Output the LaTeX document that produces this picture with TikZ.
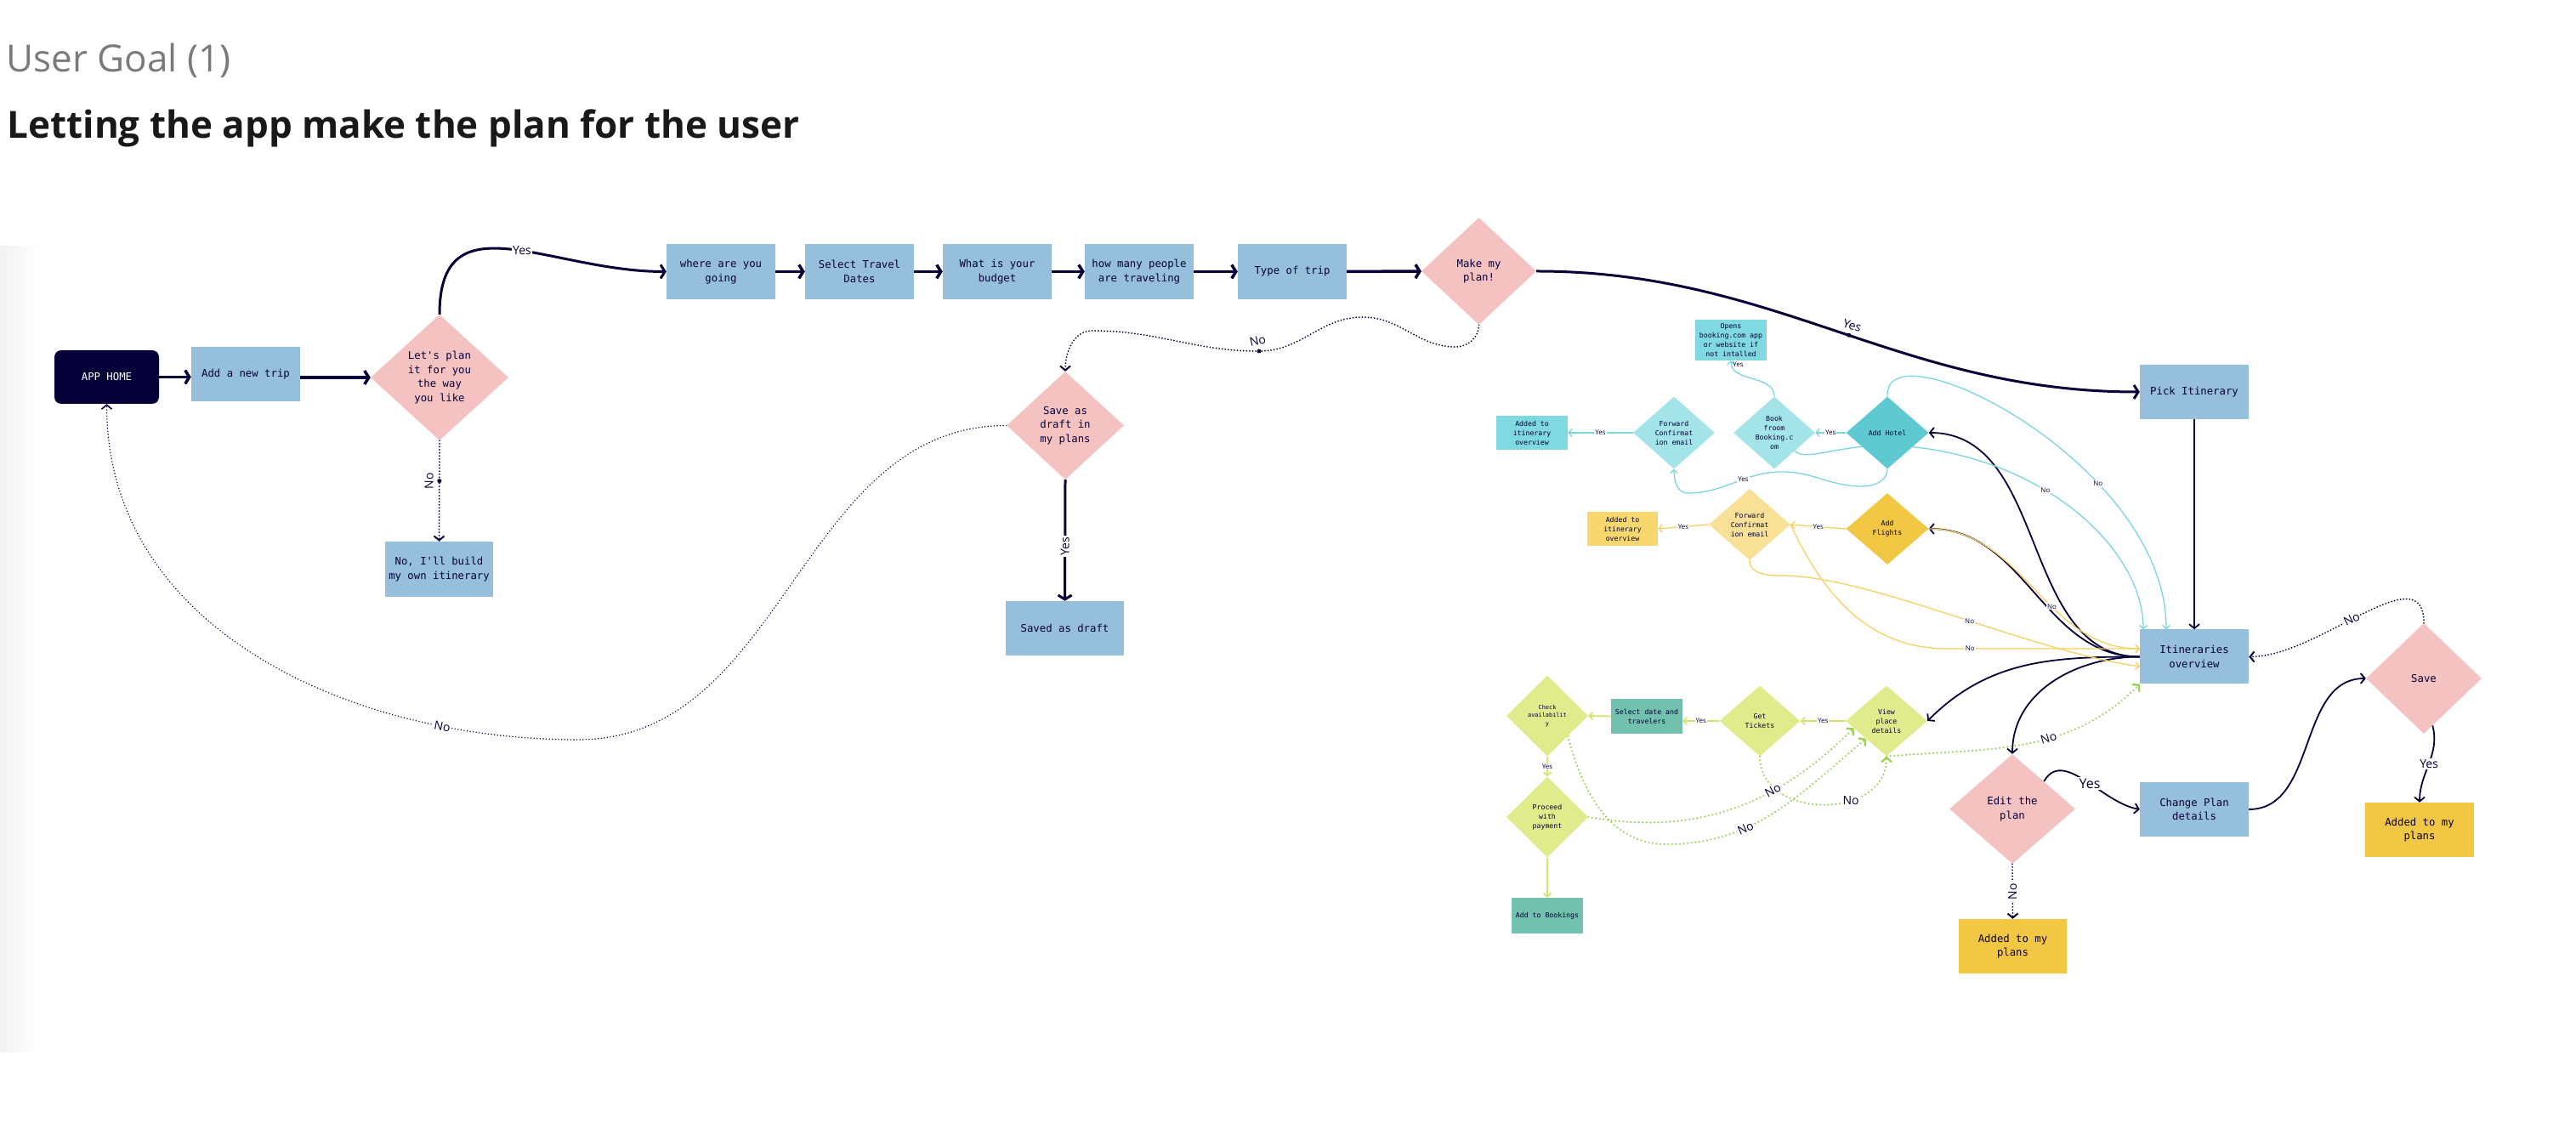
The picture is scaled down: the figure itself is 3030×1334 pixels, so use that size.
\documentclass[tikz,border=0pt]{standalone}
\usepackage{fontspec}
\setmainfont{Open Sans}
\newfontfamily\monofont{DejaVu Sans Mono}
\usetikzlibrary{shapes.geometric,arrows.meta,calc,backgrounds}
\definecolor{navy}{HTML}{050038}
\definecolor{boxblue}{HTML}{95BFDA}
\definecolor{diapink}{HTML}{F5C2C2}
\definecolor{cyanbox}{HTML}{80D9E0}
\definecolor{cyanlight}{HTML}{A3E4E8}
\definecolor{cyandark}{HTML}{5FC9D1}
\definecolor{cyanline}{HTML}{7AD5DD}
\definecolor{yelbox}{HTML}{F7D76E}
\definecolor{yellight}{HTML}{F8E196}
\definecolor{yeldark}{HTML}{F2C744}
\definecolor{yelline}{HTML}{F5D063}
\definecolor{limedia}{HTML}{E0EB8B}
\definecolor{limeline}{HTML}{D3E56C}
\definecolor{greendot}{HTML}{9CCF55}
\definecolor{tealbox}{HTML}{72C0AE}
\definecolor{goldbox}{HTML}{F2C744}
\newcommand\bigtxt{\monofont\fontsize{12.3}{16.5}\selectfont}
\newcommand\smalltxt{\monofont\fontsize{8.2}{11}\selectfont}
\newcommand\tinytxt{\monofont\fontsize{6.9}{9.5}\selectfont}
\begin{document}
\begin{tikzpicture}[x=1pt,y=1pt]
  \tikzset{box/.style={fill=boxblue,text=navy,font=\bigtxt,align=center,minimum
      width=128pt,minimum height=64pt,inner sep=2pt},dia/.style={diamond,fill=diapink,text=navy,
      font=\bigtxt,align=center,inner sep=0pt},sbox/.style={font=\smalltxt,text=navy,align=center,
      minimum width=84pt,minimum height=40pt,inner sep=1pt},sdia/.style={diamond,font=\smalltxt,
      text=navy,align=center,inner sep=0pt,minimum width=96pt,minimum height=85pt}}
  \tikzset{flow/.style={draw=navy,line width=3.5pt,-{Straight Barb[length=5pt,width=16pt]}},
    link/.style={draw=navy,line width=1.8pt,-{Straight Barb[length=5pt,width=12pt]}},
    nolink/.style={link,line width=2pt,line cap=round,dash pattern=on 0pt off 3.6pt},
    cyanlink/.style={draw=cyanline,line width=1.3pt,-{Straight Barb[length=4pt,width=9pt]}},
    yellink/.style={cyanlink,draw=yelline},limelink/.style={cyanlink,draw=limeline,line width=1.8pt},
    greenno/.style={draw=greendot,line width=2.4pt,line cap=round,dash pattern=on 0pt off 4.6pt,
      -{Straight Barb[length=5pt,width=12pt]}},
    lbl/.style={font=\fontsize{14}{14}\selectfont,text=navy,fill=white,inner sep=1.5pt},
    slbl/.style={font=\fontsize{8}{8}\selectfont,text=navy,fill=white,inner sep=1pt},
    dotmark/.style={circle,fill=navy,inner sep=0pt,minimum size=5pt}}

  \useasboundingbox (0,0) rectangle (3030,1334);
  \shade[left color=black!5,right color=white] (0,97) rectangle (45,1044);

  \node[anchor=base west,font=\fontsize{44}{44}\selectfont,text=black!52] (goal) at (4,1249) {User Goal (1)};
  \node[anchor=base west,font=\fontsize{44}{44}\selectfont\bfseries,text=black!90] (headline) at (5,1171)
  {Letting the app make the plan for the user};

  \node[box,fill=navy,text=white,rounded corners=8pt,minimum width=123pt,minimum height=63pt] (apphome)
  at (125.5,890.5) {APP HOME};
  \node[box] (addtrip) at (289,894) {Add a new trip};
  \node[dia,minimum width=162pt,minimum height=148pt] (letsplan) at (517,890)
  {Let\textquotesingle{}s plan\\it for you\\the way\\you like};
  \node[box,minimum width=127pt,minimum height=65pt] (ownplan) at (516.5,664.5)
  {No, I\textquotesingle{}ll build\\my own itinerary};
  \node[box,minimum height=65pt] (where) at (848,1014.5) {where are you\\going};
  \node[box,minimum height=65pt] (dates) at (1011,1014.5) {Select Travel\\Dates};
  \node[box,minimum height=65pt] (budget) at (1173,1014.5) {What is your\\budget};
  \node[box,minimum height=65pt] (people) at (1340,1014.5) {how many people\\are traveling};
  \node[box,minimum height=65pt] (triptype) at (1520,1014.5) {Type of trip};
  \node[dia,minimum width=135pt,minimum height=126pt] (makeplan) at (1739.5,1015) {Make my\\plan!};
  \node[dia,minimum width=138pt,minimum height=127pt] (draftq) at (1253,833.5) {Save as\\draft in\\my plans};
  \node[box,minimum width=139pt] (draft) at (1252.5,595) {Saved as draft};
  \node[box] (pick) at (2581,873) {Pick Itinerary};
  \node[box] (overview) at (2581,561.5) {Itineraries\\overview};
  \node[box] (changeplan) at (2581,382) {Change Plan\\details};
  \node[dia,minimum width=148pt,minimum height=129pt] (editplan) at (2367,382.5) {Edit the\\plan};
  \node[box,fill=goldbox,minimum width=127pt] (addedA) at (2367.5,221) {Added to my\\plans};
  \node[dia,minimum width=136pt,minimum height=130pt] (save) at (2851,536) {Save};
  \node[box,fill=goldbox] (addedB) at (2846,358) {Added to my\\plans};

  \node[sbox,fill=cyanbox,minimum height=48pt] (opens) at (2036,934)
  {Opens\\booking.com app\\or website if\\not intalled};
  \node[sbox,fill=cyanbox] (itinC) at (1802,825) {Added to\\itinerary\\overview};
  \node[sdia,fill=cyanlight] (fwdC) at (1969,825) {Forward\\Confirmat\\ion email};
  \node[sdia,fill=cyanlight] (bookC) at (2087,825) {Book\\froom\\Booking.c\\om};
  \node[sdia,fill=cyandark,minimum width=97pt] (hotel) at (2220,825) {Add Hotel};
  \node[sbox,fill=yelbox,minimum width=83pt] (itinY) at (1908.5,712) {Added to\\itinerary\\overview};
  \node[sdia,fill=yellight,minimum height=84pt] (fwdY) at (2058,717) {Forward\\Confirmat\\ion email};
  \node[sdia,fill=yeldark,minimum width=97pt,minimum height=84pt] (flights) at (2220,712) {Add\\Flights};
  \node[sdia,fill=limedia,minimum height=95pt,font=\tinytxt] (checkav) at (1820,492) {Check\\availabilit\\y};
  \node[sbox,fill=tealbox,minimum height=41pt] (seldate) at (1937,491.5) {Select date and\\travelers};
  \node[sdia,fill=limedia,minimum width=95pt,minimum height=83pt] (tickets) at (2070,486) {Get\\Tickets};
  \node[sdia,fill=limedia,minimum height=83pt] (viewplace) at (2219,486) {View\\place\\details};
  \node[sdia,fill=limedia,minimum height=95pt] (proceed) at (1820,373) {Proceed\\with\\payment};
  \node[sbox,fill=tealbox,minimum height=42pt] (bookings) at (1820,257) {Add to Bookings};

  \begin{scope}[on background layer]
    \draw[flow] (apphome.east) -- (apphome.east -| addtrip.west);
    \draw[flow] (addtrip.east |- letsplan.west) -- (letsplan.west);
    \draw[flow,line width=3pt] (letsplan.north) to[out=90,in=180,looseness=1.3]
    node[pos=.55,lbl]{Yes} (where.west);
    \draw[nolink] (letsplan.south) -- node[pos=.4,dotmark]{}
    node[pos=.4,anchor=south,rotate=90,lbl,fill=none,inner sep=6pt]{No} (ownplan.north);
    \draw[flow] (where) -- (dates);
    \draw[flow] (dates) -- (budget);
    \draw[flow] (budget) -- (people);
    \draw[flow] (people) -- (triptype);
    \draw[flow] (triptype) -- (makeplan);
    \draw[flow,line width=3pt] (makeplan.east) to[out=0,in=180] node[pos=.52,dotmark]{}
    node[pos=.52,sloped,above=4pt,lbl,fill=none]{Yes} (pick.west);
    \draw[nolink] (makeplan.south) to[out=-90,in=0] (1712,926) to[out=180,in=0] (1603,961)
    to[out=180,in=0] (1481,921) node[dotmark]{} node[above=5pt,lbl,fill=none,rotate=12]{No}
    to[out=180,in=0] (1285,945) to[out=180,in=90] (draftq.north);
    \draw[flow,line width=3pt] (draftq.south) -- node[pos=.55,lbl,rotate=90]{Yes} (draft.north);
    \draw[nolink,line width=1.6pt] (draftq.west) to[out=180,in=0] (680,464)
    to[out=180,in=-90] node[pos=.2,sloped,lbl]{No} (apphome.south);

    \draw[link] (pick) -- (overview);
    \draw[link] (overview.west) to[out=180,in=0] (hotel.east);
    \draw[link] (overview.west) to[out=180,in=0] (flights.east);
    \draw[link] (overview.west) to[out=180,in=45] (viewplace.east);
    \draw[link] (overview.west) to[out=180,in=90] (editplan.north);
    \draw[link] (editplan.north east) to[out=60,in=170]
    node[pos=.55,lbl,font=\fontsize{16}{16}\selectfont]{Yes} (changeplan.west);
    \draw[nolink] (editplan.south) -- node[pos=.5,lbl,rotate=90]{No} (addedA.north);
    \draw[link] (changeplan.east) to[out=0,in=180] (save.west);
    \draw[link] ($(save.south)!.15!(save.east)$) to[out=-75,in=90] node[pos=.5,lbl]{Yes} (addedB.north);
    \draw[nolink] (save.north) to[out=90,in=0] node[pos=.55,sloped,lbl]{No} (overview.east);

    \draw[cyanlink] (hotel.west) -- node[slbl]{Yes} (bookC.east);
    \draw[cyanlink] (bookC.north) to[out=90,in=-90] node[pos=.93,right,slbl,fill=none]{Yes} (opens.south);
    \draw[cyanlink] (fwdC.west) -- node[slbl]{Yes} (itinC.east);
    \draw[cyanlink] (hotel.south) to[out=-90,in=0] (2190,762) to[out=180,in=0] (2096,779)
    to[out=180,in=0] node[pos=.4,slbl]{Yes} (1985,754) to[out=180,in=-90] (fwdC.south);
    \draw[cyanlink] (bookC.south east) .. controls (2125,790) and (2160,812) .. (2230,810)
    .. controls (2400,800) and (2521,690) .. ([xshift=-60pt]overview.north) node[pos=.4,slbl]{No};
    \draw[cyanlink] (hotel.north) .. controls (2215,955) and (2548,790) ..
    ([xshift=-33pt]overview.north) node[pos=.68,slbl]{No};

    \draw[yellink] (flights.west) -- node[slbl]{Yes} (fwdY.east);
    \draw[yellink] (fwdY.west) -- node[slbl]{Yes} (itinY.east);
    \draw[yellink] (flights.east) to[out=0,in=180] node[pos=.6,slbl]{No} ([yshift=9.5pt]overview.west);
    \draw[yellink] (fwdY.east) to[out=-65,in=180] (2290,571) -- node[pos=.12,slbl]{No}
    ([yshift=9.5pt]overview.west);
    \draw[yellink] (fwdY.south) to[out=-90,in=180] (2095,657) .. controls (2200,657) and (2380,570) ..
    ([yshift=-11.5pt]overview.west) node[pos=.55,slbl]{No};

    \draw[limelink] (viewplace.west) -- node[slbl]{Yes} (tickets.east);
    \draw[limelink] (tickets.west) -- node[slbl]{Yes} (tickets.west -| seldate.east);
    \draw[limelink] (seldate.west) -- (checkav.east);
    \draw[limelink] (checkav.south) -- node[slbl]{Yes} (proceed.north);
    \draw[limelink] (proceed.south) -- (bookings.north);
    \draw[greenno] (tickets.south) to[out=-90,in=-90,looseness=1.3] node[pos=.65,lbl]{No} (viewplace.south);
    \draw[greenno] (checkav.south east) to[out=-75,in=180] (1960,341)
    to[out=0,in=-140] node[pos=.35,sloped,lbl]{No} (viewplace.south west);
    \draw[greenno] (proceed.east) to[out=-10,in=-135] node[pos=.66,sloped,lbl]{No}
    ($(viewplace.west)!.2!(viewplace.south)$);
    \draw[greenno] (viewplace.south) to[out=5,in=-135] node[pos=.6,sloped,lbl]{No} (overview.south west);
  \end{scope}
\end{tikzpicture}
\end{document}
